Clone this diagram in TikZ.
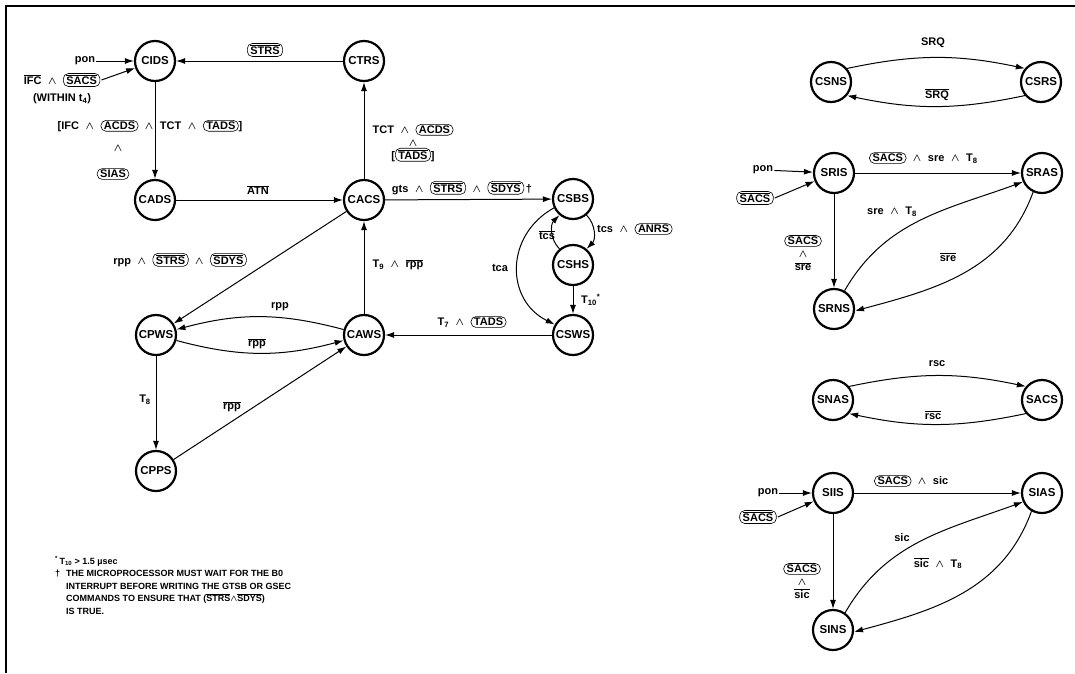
\documentclass[tikz,border=0pt]{standalone}
\usepackage{fontspec}
\setmainfont{Liberation Sans}
\usepackage{amsmath}
\usepackage{bm}
\usetikzlibrary{arrows.meta}

\newcommand{\ovl}[1]{$\overline{\hbox{#1}}$}
\newcommand{\andop}{\hspace{0.6em}$\bm{\wedge}$\hspace{0.6em}}
\newcommand{\tagbox}[1]{\tikz[baseline=(tb.base)]\node[tagnode] (tb) {#1};}
\tikzset{tagnode/.style={draw, line width=0.6pt, rounded corners=5pt, inner xsep=3pt, inner ysep=1.5pt}}

\begin{document}
\begin{tikzpicture}[x=1pt, y=-1pt,
    state/.style={draw, circle, line width=2.2pt, minimum size=40pt, inner sep=0pt, font=\fontsize{11.5}{13}\selectfont\bfseries},
    lbl/.style={font=\fontsize{11}{13}\selectfont\bfseries, inner sep=1pt, align=center},
    note/.style={font=\fontsize{9}{12.5}\selectfont\bfseries, inner sep=0pt, align=left},
    arrow/.style={-{Latex[length=9pt, width=6pt]}, line width=1pt}
]
    \useasboundingbox (0,0) rectangle (1075,673);
    % Frame
    \draw[line width=1.2pt] (6,673) -- (6,6) -- (1075,6);

    % Controller states
    \node[state] (cids) at (155,61) {CIDS};
    \node[state] (ctrs) at (364,61) {CTRS};
    \node[state] (cads) at (155,200) {CADS};
    \node[state] (cacs) at (364,200) {CACS};
    \node[state] (csbs) at (573,199) {CSBS};
    \node[state] (cshs) at (573,265) {CSHS};
    \node[state] (csws) at (573,335) {CSWS};
    \node[state] (caws) at (364,335) {CAWS};
    \node[state] (cpws) at (156,335) {CPWS};
    \node[state] (cpps) at (156,471) {CPPS};

    % Controller labels
    \node[lbl] (pon1) at (85,61) {pon};
    \node[lbl] (ifc) at (62,80) {\ovl{IFC}\andop\tagbox{\ovl{SACS}}};
    \node[lbl] (within) at (62,99) {(WITHIN t\textsubscript{4})};
    \node[lbl] (lstrs) at (265,50) {\tagbox{\ovl{STRS}}};
    \node[lbl] (lifc) at (150,126) {[IFC\andop\tagbox{ACDS}\andop TCT\andop\tagbox{TADS}]};
    \node[lbl] (land1) at (118,148) {$\bm{\wedge}$};
    \node[lbl] (lsias) at (113,174) {\tagbox{SIAS}};
    \node[lbl] (latn) at (258,190) {\ovl{ATN}};
    \node[lbl] (ltct) at (413,143) {TCT\andop\tagbox{ACDS}\\$\bm{\wedge}$\\{[}\tagbox{\ovl{TADS}}{]}};
    \node[lbl] (lgts) at (462,188) {gts\andop\tagbox{\ovl{STRS}}\andop\tagbox{\ovl{SDYS}}\,\dag};
    \node[lbl, anchor=west] (lanrs) at (596,229) {tcs\andop\tagbox{ANRS}};
    \node[lbl] (ltcs) at (547,235) {\ovl{tcs}};
    \node[lbl] (ltca) at (500,268) {tca};
    \node[lbl, anchor=west] (lten) at (580,300) {T\textsubscript{10}\textsuperscript{*}};
    \node[lbl] (lseven) at (472,322) {T\textsubscript{7}\andop\tagbox{TADS}};
    \node[lbl] (lrpps) at (180,260) {rpp\andop\tagbox{\ovl{STRS}}\andop\tagbox{\ovl{SDYS}}};
    \node[lbl] (lnine) at (398,265) {T\textsubscript{9}\andop\ovl{rpp}};
    \node[lbl] (lrppa) at (280,307) {rpp};
    \node[lbl] (lrppb) at (257,344) {\ovl{rpp}};
    \node[lbl] (leight) at (145,400) {T\textsubscript{8}};
    \node[lbl] (lrppc) at (232,407) {\ovl{rpp}};

    % Controller arrows
    \draw[arrow] (pon1) -- (cids);
    \draw[arrow] (ifc.east) -- (cids);
    \draw[arrow] (ctrs) -- (cids);
    \draw[arrow] (cids) -- (cads);
    \draw[arrow] (cads) -- (cacs);
    \draw[arrow] (cacs) -- (ctrs);
    \draw[arrow] (cacs) -- (csbs);
    \draw[arrow] (csbs.-50) to[bend left=45] (cshs.50);
    \draw[arrow] (cshs.130) to[bend left=45] (csbs.-130);
    \draw[arrow] (cshs) -- (csws);
    \draw[arrow] (csbs.205) .. controls (505,235) and (505,300) .. (csws.150);
    \draw[arrow] (csws) -- (caws);
    \draw[arrow] (caws) -- (cacs);
    \draw[arrow] (cacs) -- (cpws);
    \draw[arrow] (caws.165) to[bend right=15] (cpws.15);
    \draw[arrow] (cpws.-15) to[bend right=15] (caws.-165);
    \draw[arrow] (cpws) -- (cpps);
    \draw[arrow] (cpps) -- (caws);

    % Footnotes
    \node[note, anchor=north west] (notes) at (55,556) {%
        \makebox[11pt][l]{\textsuperscript{*}\,T\textsubscript{10} > 1.5 µsec}\\
        \makebox[11pt][l]{\dag}THE MICROPROCESSOR MUST WAIT FOR THE B0\\
        \hspace*{11pt}INTERRUPT BEFORE WRITING THE GTSB OR GSEC\\
        \hspace*{11pt}COMMANDS TO ENSURE THAT (\ovl{STRS}$\bm{\wedge}$\ovl{SDYS})\\
        \hspace*{11pt}IS TRUE.};

    % Service request states
    \node[state] (csns) at (831,82) {CSNS};
    \node[state] (csrs) at (1041,82) {CSRS};
    \node[lbl] (lsrq) at (933,43) {SRQ};
    \node[lbl] (lsrqn) at (937,95) {\ovl{SRQ}};
    \draw[arrow] (csns.40) to[bend left=12] (csrs.140);
    \draw[arrow] (csrs.-140) to[bend left=12] (csns.-40);

    % Remote states
    \node[state] (sris) at (834,173) {SRIS};
    \node[state] (sras) at (1042,173) {SRAS};
    \node[state] (srns) at (834,309) {SRNS};
    \node[lbl] (pon2) at (763,170) {pon};
    \node[lbl] (lsacsa) at (755,198) {\tagbox{\ovl{SACS}}};
    \node[lbl, anchor=west] (lsrea) at (868,158) {\tagbox{SACS}\andop sre\andop T\textsubscript{8}};
    \node[lbl] (lsreb) at (892,212) {sre\andop T\textsubscript{8}};
    \node[lbl] (lsren) at (948,257) {\ovl{sre}};
    \node[lbl] (lsacsb) at (803,253) {\tagbox{SACS}\\$\bm{\wedge}$\\\ovl{sre}};
    \draw[arrow] (pon2) -- (sris);
    \draw[arrow] (lsacsa.east) -- (sris);
    \draw[arrow] (sris) -- (sras);
    \draw[arrow] (sris) -- (srns);
    \draw[arrow] (srns.60) to[out=60, in=200] (sras.205);
    \draw[arrow] (sras.245) to[out=250, in=15] (srns.-5);

    % Acceptor states
    \node[state] (snas) at (833,400) {SNAS};
    \node[state] (sacs) at (1042,400) {SACS};
    \node[lbl] (lrsc) at (937,364) {rsc};
    \node[lbl] (lrscn) at (933,415) {\ovl{rsc}};
    \draw[arrow] (snas.40) to[bend left=12] (sacs.140);
    \draw[arrow] (sacs.-140) to[bend left=12] (snas.-40);

    % Interface states
    \node[state] (siis) at (833,493) {SIIS};
    \node[state] (sias) at (1042,493) {SIAS};
    \node[state] (sins) at (833,630) {SINS};
    \node[lbl] (pon3) at (768,493) {pon};
    \node[lbl] (lsacsc) at (758,517) {\tagbox{\ovl{SACS}}};
    \node[lbl, anchor=west] (lsica) at (873,481) {\tagbox{SACS}\andop sic};
    \node[lbl] (lsicb) at (902,538) {sic};
    \node[lbl] (lsicn) at (938,563) {\ovl{sic}\andop T\textsubscript{8}};
    \node[lbl] (lsacsd) at (802,581) {\tagbox{SACS}\\$\bm{\wedge}$\\\ovl{sic}};
    \draw[arrow] (pon3) -- (siis);
    \draw[arrow] (lsacsc.east) -- (siis);
    \draw[arrow] (siis) -- (sias);
    \draw[arrow] (siis) -- (sins);
    \draw[arrow] (sins.55) to[out=60, in=200] (sias.205);
    \draw[arrow] (sias.240) to[out=250, in=15] (sins.-5);
\end{tikzpicture}
\end{document}
